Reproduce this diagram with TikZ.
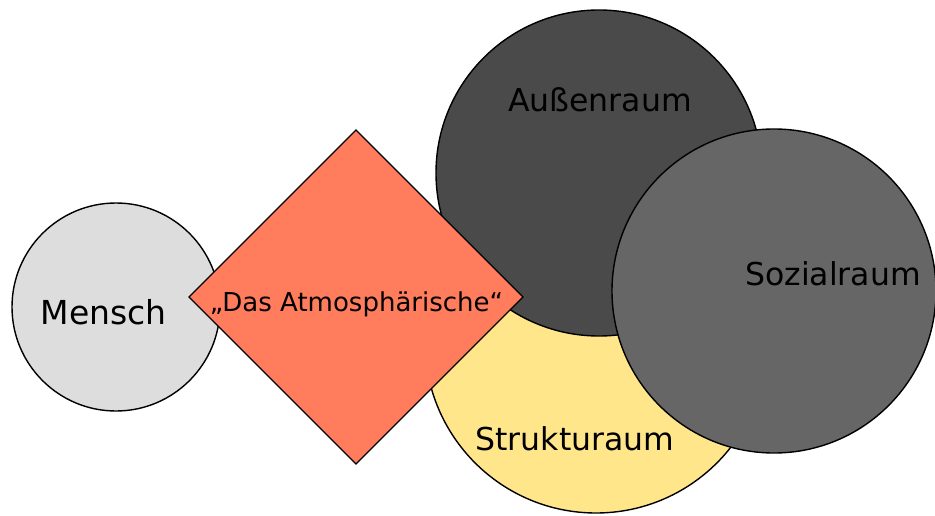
\documentclass[tikz,border=0pt]{standalone}
\usepackage{fontspec}
\setmainfont{DejaVu Sans}
\usetikzlibrary{shapes.geometric}
\definecolor{menschgray}{HTML}{DDDDDD}
\definecolor{strukturgelb}{HTML}{FFE68A}
\definecolor{aussengrau}{HTML}{4A4A4A}
\definecolor{sozialgrau}{HTML}{666666}
\definecolor{atmokoralle}{HTML}{FF7C5C}
\begin{document}
\begin{tikzpicture}[x=1pt,y=1pt,
  shp/.style={draw=black, line width=1.4pt, inner sep=0pt, outer sep=0pt},
  circ/.style={shp, circle},
  raute/.style={shp, diamond, shape aspect=1},
  lbl/.style={font=\fontsize{31.5}{36}\selectfont, anchor=base, text=black, inner sep=0pt},
  lblsmall/.style={font=\fontsize{26}{30}\selectfont, anchor=base, text=black, inner sep=0pt},
]
\useasboundingbox (0,0) rectangle (935,515);
\node[circ, fill=menschgray, minimum size=208] (mensch) at (116,208) {};
\node[circ, fill=strukturgelb, minimum size=342] (struktur) at (596,173) {};
\node[circ, fill=aussengrau, minimum size=326] (aussen) at (599,342) {};
\node[raute, fill=atmokoralle, minimum width=334, minimum height=334] (atmo) at (356,218) {};
\node[circ, fill=sozialgrau, minimum size=324] (sozial) at (774,224) {};
\node[lbl, font=\fontsize{33}{38}\selectfont] (menschT) at (103.5,191) {Mensch};
\node[lbl] (aussenT) at (600,403) {Außenraum};
\node[lbl] (sozialT) at (833,229.3) {Sozialraum};
\node[lbl] (strukturT) at (575,65) {Strukturaum};
\node[lblsmall] (atmoT) at (356.5,203.3) {„Das Atmosphärische“};
\end{tikzpicture}
\end{document}
